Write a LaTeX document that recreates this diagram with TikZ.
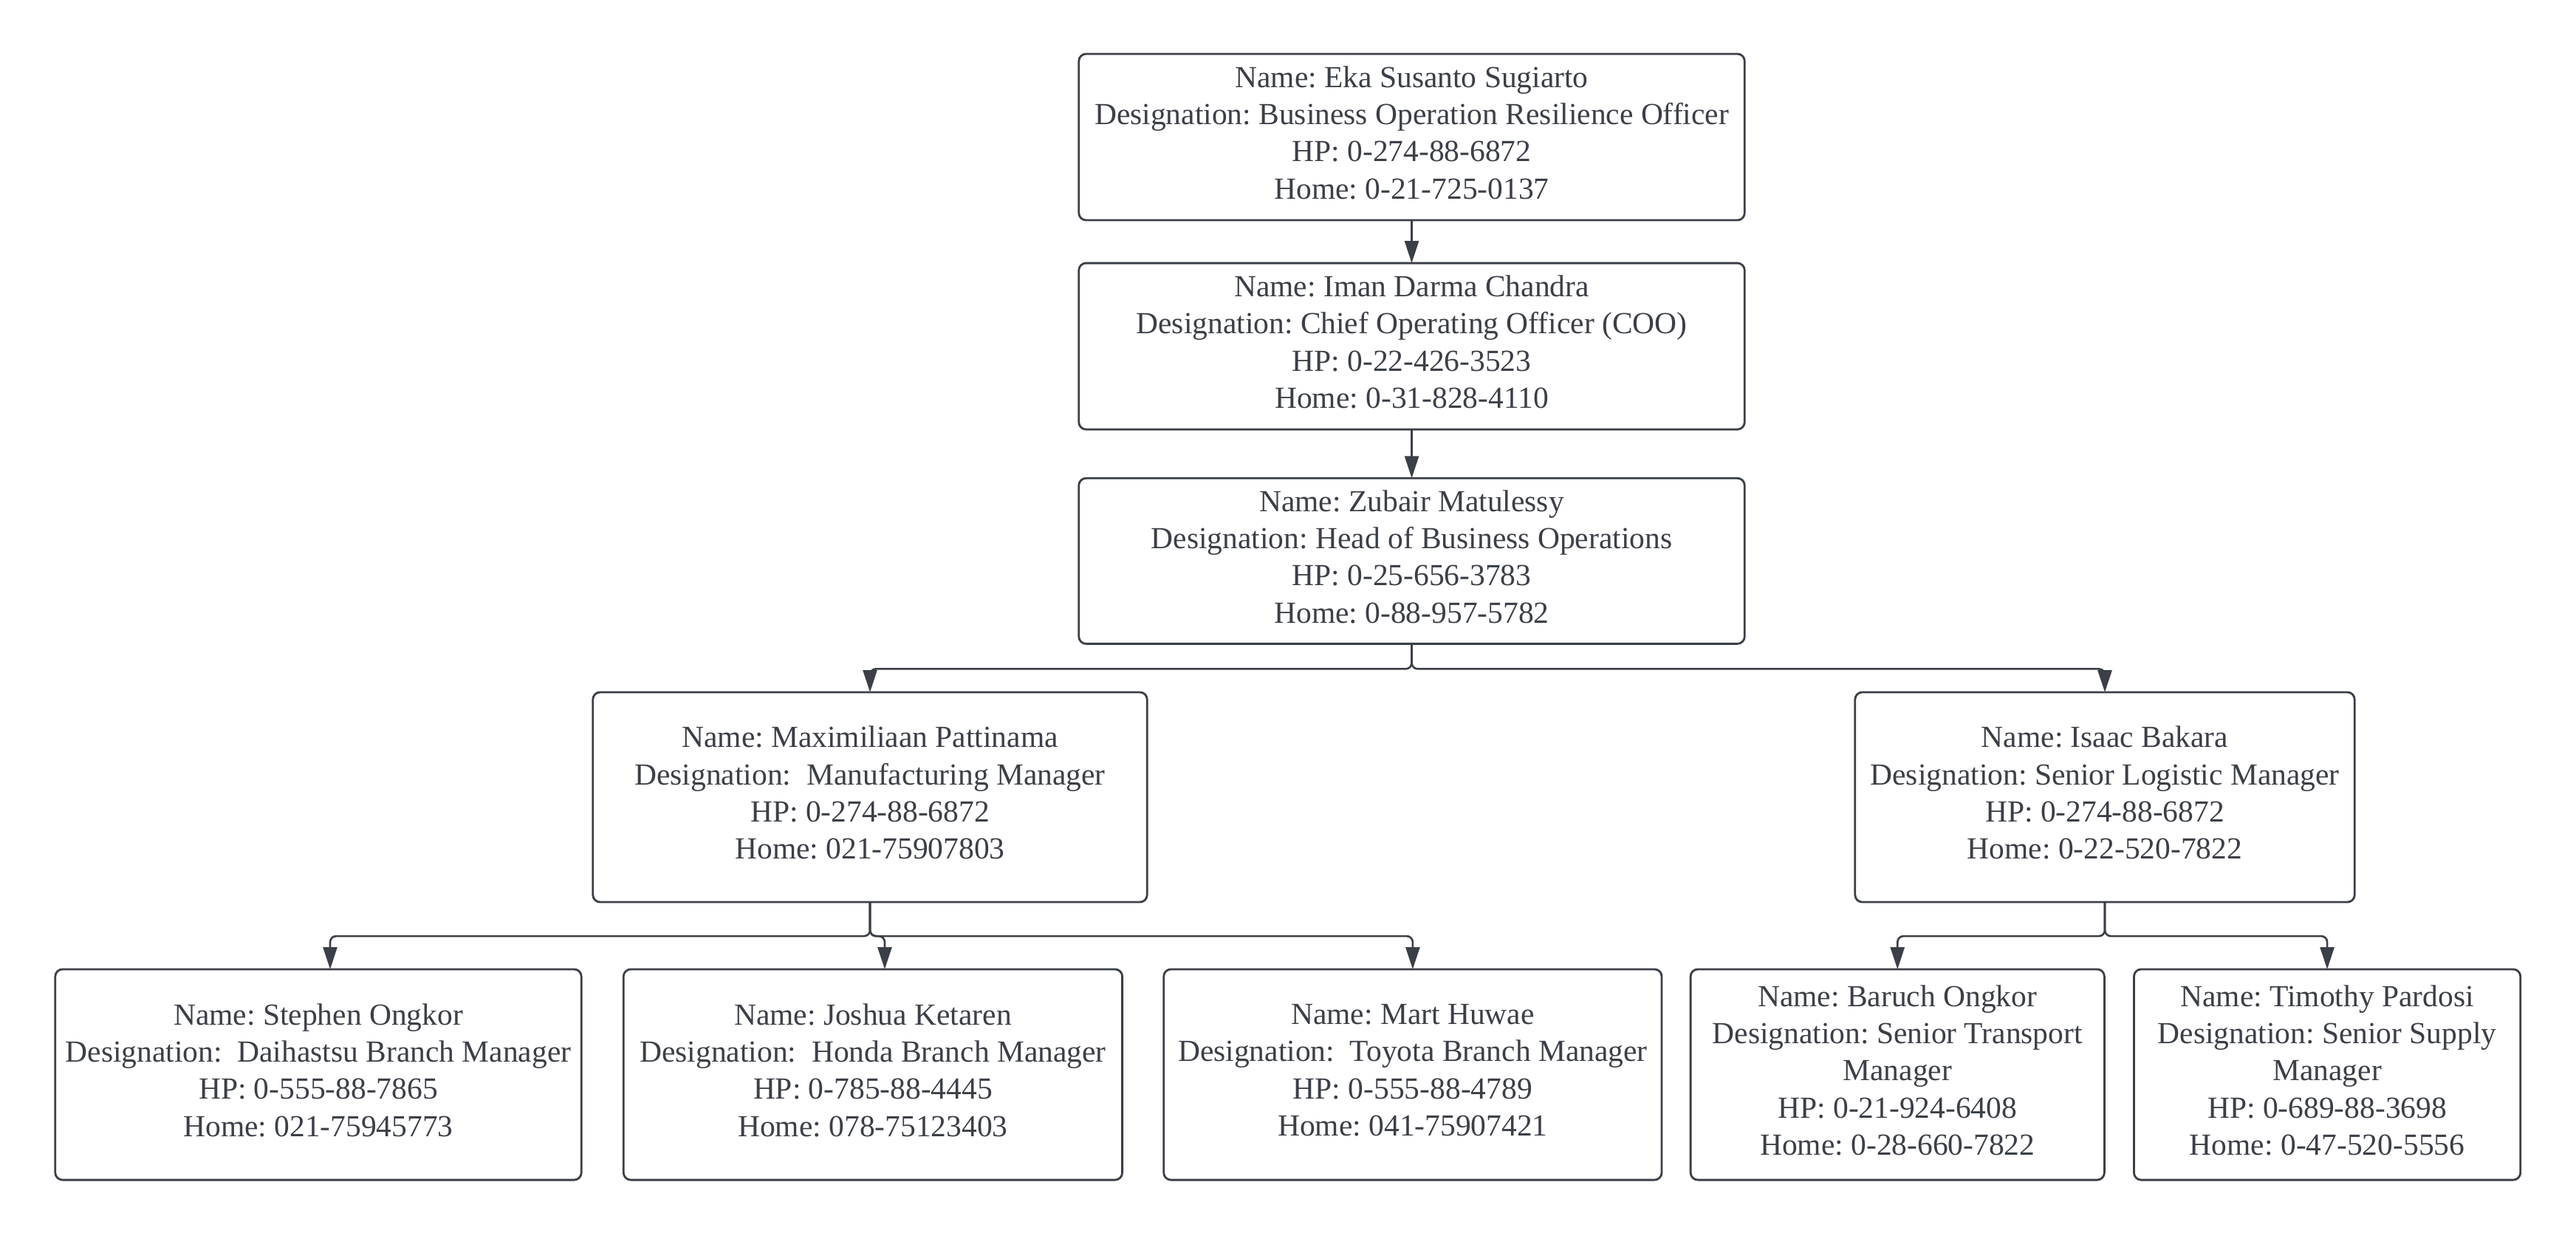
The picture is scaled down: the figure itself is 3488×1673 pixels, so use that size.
\documentclass[tikz,border=0pt]{standalone}
\usepackage{fontspec}
\setmainfont{Liberation Serif}
\usepackage{xcolor}
\usepackage{tikz}
\usetikzlibrary{arrows.meta,positioning}
\definecolor{ink}{HTML}{3B3F47}
\frenchspacing
\tikzset{
  card/.style={rectangle, rounded corners=2.8pt, draw=ink, line width=0.8pt, text=ink,
    align=center, inner sep=0pt, outer sep=0pt, minimum height=2.85cm, text depth=3.5pt,
    font=\fontsize{11.8}{14.3}\selectfont},
  link/.style={-{Triangle[length=8.5pt,width=5.4pt]}, line width=0.75pt, draw=ink,
    rounded corners=2.3pt}
}
\begin{document}
\begin{tikzpicture}[x=0.01cm,y=-0.01cm]
\useasboundingbox (0,0) rectangle (3488,1673);
% top chain
\node[card, minimum width=9.01cm, minimum height=2.25cm] (eka) at (1911.5,185.5)
  {Name: Eka Susanto Sugiarto\\Designation: Business Operation Resilience Officer\\HP: 0-274-88-6872\\Home: 0-21-725-0137};
\node[card, minimum width=9.01cm, minimum height=2.25cm, below=0.58cm of eka] (iman)
  {Name: Iman Darma Chandra\\Designation: Chief Operating Officer (COO)\\HP: 0-22-426-3523\\Home: 0-31-828-4110};
\node[card, minimum width=9.01cm, minimum height=2.24cm, below=0.66cm of iman] (zubair)
  {Name: Zubair Matulessy\\Designation: Head of Business Operations\\HP: 0-25-656-3783\\Home: 0-88-957-5782};
% managers
\node[card, minimum width=7.5cm, minimum height=2.84cm] (maxi) at (1178,1079)
  {Name: Maximiliaan Pattinama\\Designation:~ Manufacturing Manager\\HP: 0-274-88-6872\\Home: 021-75907803};
\node[card, minimum width=6.76cm, minimum height=2.84cm] (isaac) at (2850,1079)
  {Name: Isaac Bakara\\Designation: Senior Logistic Manager\\HP: 0-274-88-6872\\Home: 0-22-520-7822};
% branch staff
\node[card, minimum width=7.12cm] (stephen) at (431,1454.5)
  {Name: Stephen Ongkor\\Designation:~ Daihastsu Branch Manager\\HP: 0-555-88-7865\\Home: 021-75945773};
\node[card, minimum width=6.75cm, right=0.57cm of stephen] (joshua)
  {Name: Joshua Ketaren\\Designation:~ Honda Branch Manager\\HP: 0-785-88-4445\\Home: 078-75123403};
\node[card, minimum width=6.74cm, right=0.56cm of joshua] (mart)
  {Name: Mart Huwae\\Designation:~ Toyota Branch Manager\\HP: 0-555-88-4789\\Home: 041-75907421};
\node[card, minimum width=5.6cm, right=0.39cm of mart] (baruch)
  {Name: Baruch Ongkor\\Designation: Senior Transport\\Manager\\HP: 0-21-924-6408\\Home: 0-28-660-7822};
\node[card, minimum width=5.23cm, right=0.4cm of baruch] (timothy)
  {Name: Timothy Pardosi\\Designation: Senior Supply\\Manager\\HP: 0-689-88-3698\\Home: 0-47-520-5556};
% connectors
\draw[link] (eka.south) -- (iman.north);
\draw[link] (iman.south) -- (zubair.north);
\draw[link] (zubair.south) -- ++(0,34) -| (maxi.north);
\draw[link] (zubair.south) -- ++(0,34) -| (isaac.north);
\draw[link] (maxi.south) -- ++(0,46) -| ([xshift=0.16cm]stephen.north);
\draw[link] (maxi.south) -- ++(0,46) -| ([xshift=0.16cm]joshua.north);
\draw[link] (maxi.south) -- ++(0,46) -| (mart.north);
\draw[link] (isaac.south) -- ++(0,46) -| (baruch.north);
\draw[link] (isaac.south) -- ++(0,46) -| (timothy.north);
\end{tikzpicture}
\end{document}
